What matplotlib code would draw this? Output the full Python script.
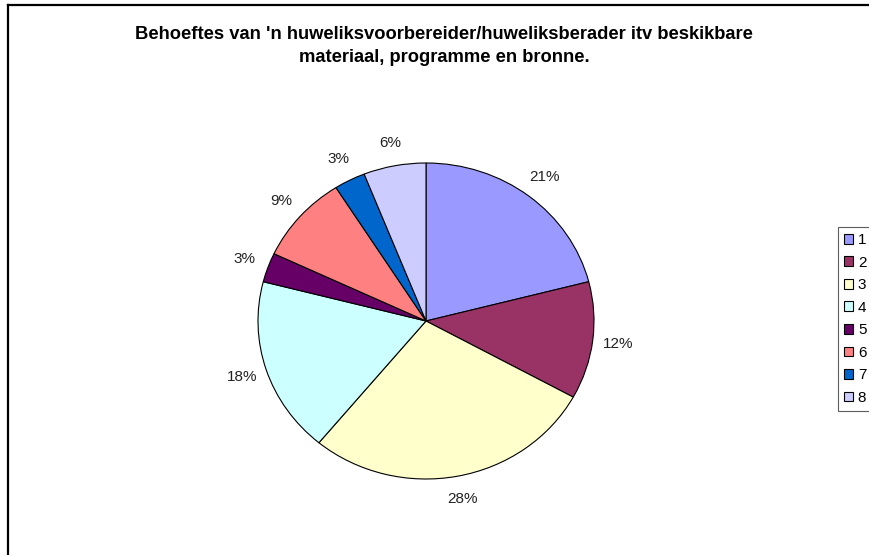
import matplotlib
matplotlib.use("Agg")
import matplotlib.pyplot as plt
from matplotlib.lines import Line2D

plt.rcParams["font.family"] = ["Liberation Sans", "DejaVu Sans"]

categories = ["1", "2", "3", "4", "5", "6", "7", "8"]
values = [21, 12, 28, 18, 3, 9, 3, 6]
colors = ["#9999FF", "#993366", "#FFFFCC", "#CCFFFF", "#660066", "#FF8080", "#0066CC", "#CCCCFF"]
title = "Behoeftes van 'n huweliksvoorbereider/huweliksberader itv beskikbare\nmateriaal, programme en bronne."

W, H = 870, 555
fig = plt.figure(figsize=(W / 100, H / 100), dpi=100)

# chart border: only top and left edges are in view
fig.lines.append(Line2D([8 / W, 1.0], [1 - 5 / H, 1 - 5 / H], transform=fig.transFigure,
                        color="black", linewidth=1.6))
fig.lines.append(Line2D([8 / W, 8 / W], [0.0, 1 - 5 / H], transform=fig.transFigure,
                        color="black", linewidth=1.6))

# pie is slightly wider than tall, as in the original
cx, cy, rx, ry = 426, 321, 168, 158
ax = fig.add_axes([(cx - rx) / W, (H - cy - ry) / H, 2 * rx / W, 2 * ry / H])
wedges, texts, autotexts = ax.pie(
    values, colors=colors, startangle=90, counterclock=False,
    autopct="%1.0f%%", pctdistance=1.15,
    wedgeprops=dict(edgecolor="black", linewidth=0.8),
    textprops=dict(fontsize=11, color="#222222"),
)
ax.set_aspect("auto")
ax.set_xlim(-1, 1)
ax.set_ylim(-1, 1)
ax.axis("off")

fig.text(444 / W, 1 - 46 / H, title, ha="center", va="center", fontsize=13.2,
         fontweight="bold", linespacing=1.5)

leg = fig.legend(wedges, categories, loc="center left", bbox_to_anchor=(838 / W, 1 - 319 / H),
                 fontsize=11, frameon=True, fancybox=False, handlelength=0.6, handleheight=0.6,
                 handletextpad=0.3, labelspacing=0.56, borderpad=0.4, borderaxespad=0)
leg.get_frame().set_edgecolor("#333333")
leg.get_frame().set_linewidth(0.8)

fig.savefig("out.png", dpi=100)
plt.close(fig)
